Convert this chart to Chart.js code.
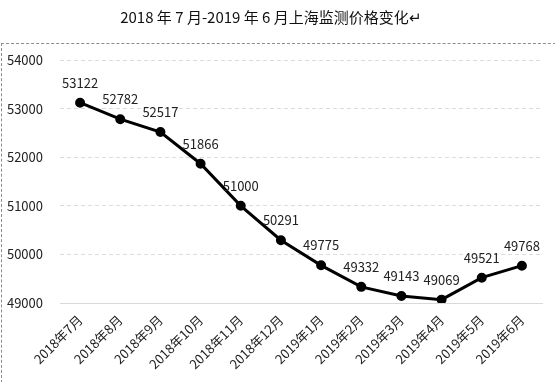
<!DOCTYPE html>
<html>
<head>
<meta charset="utf-8">
<script src="https://cdn.jsdelivr.net/npm/chart.js@4"></script>
<style>
  html, body { margin: 0; padding: 0; background: #fff; }
  #wrap { position: relative; width: 555px; height: 382px; }
  #priceChart { display: block; }
  #frame { position: absolute; left: 1px; top: 43px; width: 560px; height: 345px; border: 1px dashed #8c8c8c; box-sizing: border-box; }
</style>
</head>
<body>
<div id="wrap">
  <div id="frame"></div>
  <canvas id="priceChart" width="555" height="382"></canvas>
</div>
<script>
const months = ['2018年7月', '2018年8月', '2018年9月', '2018年10月', '2018年11月', '2018年12月',
    '2019年1月', '2019年2月', '2019年3月', '2019年4月', '2019年5月', '2019年6月'];
const prices = [53122, 52782, 52517, 51866, 51000, 50291, 49775, 49332, 49143, 49069, 49521, 49768];
const yMin = 49000;
const yMax = 54000;
const yStep = 1000;

const fontFamily = '"Microsoft YaHei", "Noto Sans CJK SC", sans-serif';

// draw the numbers above each point
const valueLabels = {
    id: 'valueLabels',
    afterDatasetsDraw(chart) {
        const ctx = chart.ctx;
        const meta = chart.getDatasetMeta(0);
        ctx.save();
        ctx.font = '13px ' + fontFamily;
        ctx.fillStyle = '#222';
        ctx.textAlign = 'center';
        ctx.textBaseline = 'middle';
        meta.data.forEach(function (pt, i) {
            ctx.fillText(String(prices[i]), pt.x, pt.y - 20);
        });
        ctx.restore();
    }
};

new Chart(document.getElementById('priceChart'), {
    type: 'line',
    data: {
        labels: months,
        datasets: [{
            data: prices,
            borderColor: '#000',
            backgroundColor: '#000',
            borderWidth: 3,
            pointRadius: 3.5,
            pointBackgroundColor: '#000',
            tension: 0
        }]
    },
    options: {
        responsive: false,
        animation: false,
        layout: { padding: { left: 0, right: 13, top: 0, bottom: 0 } },
        plugins: {
            legend: { display: false },
            tooltip: { enabled: false },
            title: {
                display: true,
                text: '2018 年 7 月-2019 年 6 月上海监测价格变化↵',
                color: '#111',
                font: { family: fontFamily, size: 15, weight: 'normal' },
                padding: { top: 8, bottom: 34 }
            }
        },
        scales: {
            x: {
                offset: true,
                grid: { display: false, drawTicks: false },
                border: { display: true, color: '#d9d9d9', width: 1 },
                ticks: {
                    color: '#222',
                    font: { family: fontFamily, size: 13 },
                    minRotation: 45,
                    maxRotation: 45,
                    padding: 9,
                    autoSkip: false
                },
                afterFit(scale) { scale.height = 79; }
            },
            y: {
                min: yMin,
                max: yMax,
                ticks: {
                    stepSize: yStep,
                    color: '#222',
                    font: { family: fontFamily, size: 13 },
                    padding: 17,
                    callback: function (v) { return String(v); }
                },
                grid: {
                    color: '#dcdcdc',
                    drawTicks: false
                },
                border: { display: false, dash: [4, 3] },
                afterFit(scale) { scale.width = 60; }
            }
        }
    },
    plugins: [valueLabels]
});
</script>
</body>
</html>
